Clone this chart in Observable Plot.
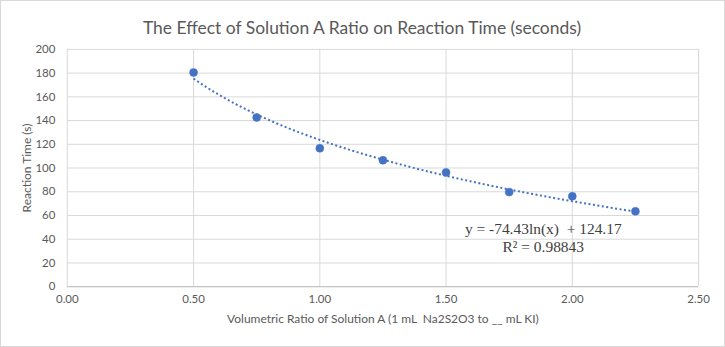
<!DOCTYPE html>
<html>
<head>
<meta charset="utf-8">
<script src="https://cdn.jsdelivr.net/npm/d3@7"></script>
<script src="https://cdn.jsdelivr.net/npm/@observablehq/plot@0.6"></script>
<style>
  html, body { margin: 0; padding: 0; background: #fff; }
  #chart { position: relative; width: 725px; height: 347px; box-sizing: border-box; border: 1px solid #d9d9d9; overflow: hidden; }
  #chart svg { position: absolute; left: -1px; top: -1px; }
</style>
</head>
<body>
<div id="chart"></div>
<script>
const title = "The Effect of Solution A Ratio on Reaction Time (seconds)";
const xLabel = "Volumetric Ratio of Solution A (1 mL  Na2S2O3 to __ mL KI)";
const yLabel = "Reaction Time (s)";
const ratios = [0.5, 0.75, 1.0, 1.25, 1.5, 1.75, 2.0, 2.25];
const times = [180.5, 142.6, 116.6, 106.5, 96.3, 79.7, 76.2, 63.5];
const xTicks = [0, 0.5, 1.0, 1.5, 2.0, 2.5];
const yTicks = [0, 20, 40, 60, 80, 100, 120, 140, 160, 180, 200];
const equationLines = ["y = -74.43ln(x)  + 124.17", "R\u00b2 = 0.98843"];

const points = ratios.map((r, i) => ({x: r, y: times[i]}));

// Logarithmic least-squares trendline fitted to the data (as the spreadsheet does)
const lx = ratios.map(Math.log);
const mx = d3.mean(lx), my = d3.mean(times);
const slope = d3.sum(lx.map((v, i) => (v - mx) * (times[i] - my))) / d3.sum(lx.map(v => (v - mx) ** 2));
const intercept = my - slope * mx;
const xMin = d3.min(ratios), xMax = d3.max(ratios);
const trend = d3.range(0, 101).map(k => {
  const x = xMin + (xMax - xMin) * k / 100;
  return {x, y: intercept + slope * Math.log(x)};
});

const blue = "#4472C4";
const grey = "#595959";

const chart = Plot.plot({
  width: 725,
  height: 347,
  marginLeft: 67,
  marginRight: 25,
  marginTop: 49,
  marginBottom: 60,
  style: {fontFamily: "Lato, 'Open Sans', sans-serif", fontSize: "11px", color: grey, background: "transparent"},
  x: {domain: [0, 2.5]},
  y: {domain: [0, 200]},
  marks: [
    Plot.gridX(xTicks, {stroke: "#d9d9d9", strokeOpacity: 1, strokeWidth: 1}),
    Plot.gridY(yTicks, {stroke: "#d9d9d9", strokeOpacity: 1, strokeWidth: 1}),
    Plot.ruleY([0], {stroke: "#bfbfbf", strokeWidth: 1}),
    Plot.axisX(xTicks, {tickSize: 0, tickPadding: 8, tickFormat: d3.format(".2f"), label: null, fill: grey, fontSize: 11.5}),
    Plot.axisY(yTicks, {tickSize: 0, tickPadding: 12, label: null, fill: grey, fontSize: 11.5}),
    Plot.line(trend, {x: "x", y: "y", stroke: blue, strokeWidth: 2, strokeDasharray: "2,2.5", strokeLinecap: "butt"}),
    Plot.dot(points, {x: "x", y: "y", r: 4, fill: blue, stroke: blue, strokeWidth: 0.5}),
    Plot.text([title], {frameAnchor: "top", textAnchor: "middle", dx: -21, dy: -28, fontSize: 17.5, fill: grey}),
    Plot.text([xLabel], {frameAnchor: "bottom", textAnchor: "middle", dy: 36, fontSize: 12, fill: grey}),
    Plot.text([yLabel], {frameAnchor: "left", textAnchor: "middle", rotate: -90, dx: -40, fontSize: 12, fill: grey}),
    Plot.text([equationLines[0]], {x: 1.885, y: 48.5, fontFamily: "'Liberation Serif', 'DejaVu Serif', serif", fontSize: 15.5, fill: "#404040"}),
    Plot.text([equationLines[1]], {x: 1.885, y: 33.5, fontFamily: "'Liberation Serif', 'DejaVu Serif', serif", fontSize: 15.5, fill: "#404040"})
  ]
});
document.getElementById("chart").appendChild(chart);
</script>
</body>
</html>
